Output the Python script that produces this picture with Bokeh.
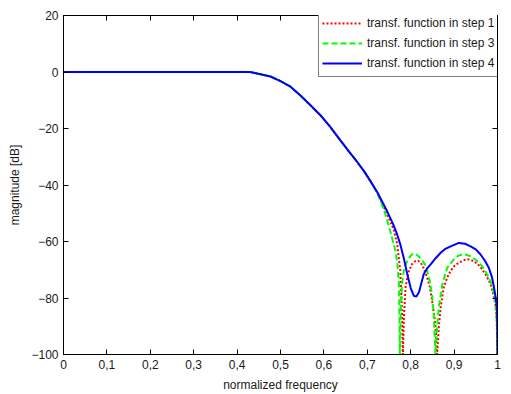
from bokeh.plotting import figure
from bokeh.models import LinearAxis, FixedTicker, Range1d, Legend, LegendItem, CustomJSTickFormatter
from bokeh.embed import file_html
from bokeh.resources import INLINE

# ---- data ----
freq_step1 = [0.0, 0.1, 0.2, 0.3, 0.4, 0.43, 0.454, 0.477, 0.5, 0.523, 0.546, 0.569,
              0.592, 0.615, 0.638, 0.657, 0.675, 0.692, 0.708, 0.723, 0.730, 0.746,
              0.761, 0.769, 0.776, 0.780, 0.782, 0.784, 0.788, 0.792, 0.796, 0.803,
              0.811, 0.817, 0.823, 0.830, 0.838, 0.844, 0.849, 0.855, 0.857, 0.861,
              0.865, 0.869, 0.876, 0.884, 0.892, 0.900, 0.911, 0.926, 0.935, 0.945,
              0.955, 0.965, 0.975, 0.984, 0.990, 0.995, 0.998, 1.0]
mag_step1 = [0, 0, 0, 0, 0, 0, -0.8, -1.6, -3.2, -5.2, -8.3, -11.8,
             -15.3, -19.5, -24.2, -28.0, -31.5, -35.0, -38.8, -42.6, -45.0, -50.5,
             -55.8, -61.1, -70.4, -85.0, -100, -88.0, -76.3, -73.0, -70.4, -68.0,
             -66.9, -66.8, -67.5, -69.5, -72.8, -76.0, -80.9, -87.0, -90.0, -100,
             -90.0, -83.3, -76.3, -72.8, -70.4, -68.7, -67.5, -66.4, -66.4, -66.9,
             -68.1, -69.9, -72.3, -75.1, -78.5, -82.1, -87.0, -100]

freq_step3 = [0.0, 0.1, 0.2, 0.3, 0.4, 0.43, 0.454, 0.477, 0.5, 0.523, 0.546, 0.569,
              0.592, 0.615, 0.638, 0.657, 0.675, 0.692, 0.708, 0.723, 0.730, 0.740,
              0.753, 0.760, 0.765, 0.769, 0.773, 0.775, 0.777, 0.780, 0.784, 0.790,
              0.796, 0.803, 0.808, 0.811, 0.818, 0.826, 0.832, 0.838, 0.844, 0.849,
              0.853, 0.857, 0.861, 0.865, 0.873, 0.884, 0.899, 0.910, 0.919, 0.928,
              0.938, 0.950, 0.961, 0.971, 0.980, 0.987, 0.992, 0.996, 0.999, 1.0]
mag_step3 = [0, 0, 0, 0, 0, 0, -0.8, -1.6, -3.2, -5.2, -8.3, -11.8,
             -15.3, -19.5, -24.2, -28.0, -31.5, -35.0, -38.9, -43.0, -45.5, -49.5,
             -56.4, -60.5, -63.4, -67.5, -75.0, -100, -85.0, -75.0, -70.4, -67.5,
             -65.8, -64.6, -64.3, -64.4, -65.2, -66.4, -68.0, -70.4, -74.0, -78.6,
             -85.6, -100, -90.0, -83.0, -75.1, -69.3, -66.4, -65.0, -64.6, -64.7,
             -65.2, -66.5, -68.1, -70.2, -72.8, -75.5, -78.6, -83.0, -90.0, -100]

freq_step4 = [0.0, 0.1, 0.2, 0.3, 0.4, 0.43, 0.454, 0.477, 0.5, 0.523, 0.546, 0.569,
              0.592, 0.615, 0.638, 0.657, 0.675, 0.692, 0.708, 0.723, 0.730, 0.746,
              0.760, 0.769, 0.776, 0.784, 0.792, 0.800, 0.807, 0.813, 0.819, 0.825,
              0.830, 0.838, 0.846, 0.857, 0.869, 0.880, 0.892, 0.911, 0.925, 0.938,
              0.950, 0.961, 0.971, 0.980, 0.987, 0.992, 0.996, 0.999, 1.0]
mag_step4 = [0, 0, 0, 0, 0, 0, -0.8, -1.6, -3.2, -5.2, -8.3, -11.8,
             -15.3, -19.5, -24.2, -28.0, -31.5, -35.0, -38.8, -42.6, -44.6, -49.4,
             -54.0, -57.6, -61.0, -65.8, -71.5, -76.5, -79.2, -79.5, -78.0, -74.5,
             -71.6, -69.5, -68.1, -66.0, -64.0, -62.6, -61.7, -60.5, -60.8, -61.7,
             -62.8, -64.6, -66.8, -69.3, -72.5, -76.3, -80.0, -84.4, -100]

x_ticks = [0.0, 0.1, 0.2, 0.3, 0.4, 0.5, 0.6, 0.7, 0.8, 0.9, 1.0]
x_tick_labels = ["0", "0,1", "0,2", "0,3", "0,4", "0,5", "0,6", "0,7", "0,8", "0,9", "1"]
y_ticks = [-100, -80, -60, -40, -20, 0, 20]
legend_labels = ["transf. function in step 1", "transf. function in step 3",
                 "transf. function in step 4"]

FONT = "Liberation Sans"
TXT = "#1a1a1a"

p = figure(width=511, height=394, output_backend="svg", toolbar_location=None,
           x_range=Range1d(0, 1), y_range=Range1d(-100, 20),
           min_border_left=63, min_border_right=14, min_border_top=15,
           min_border_bottom=36, x_axis_label="normalized frequency",
           y_axis_label="magnitude [dB]")
p.background_fill_color = "white"
p.border_fill_color = "white"
p.outline_line_color = "black"
p.outline_line_width = 1
p.xgrid.visible = False
p.ygrid.visible = False

r1 = p.line(freq_step1, mag_step1, line_color="#ff0000", line_width=2, line_dash="2 2")
r3 = p.line(freq_step3, mag_step3, line_color="#00ff00", line_width=2, line_dash="6 3")
r4 = p.line(freq_step4, mag_step4, line_color="#0000ff", line_width=2)

def style_axis(ax, ticks, show_labels=True):
    ax.ticker = FixedTicker(ticks=ticks)
    ax.minor_tick_line_color = None
    ax.major_tick_in = 5
    ax.major_tick_out = 0
    ax.axis_line_color = "black"
    ax.major_tick_line_color = "black"
    if show_labels:
        ax.major_label_text_font = FONT
        ax.major_label_text_font_size = "12px"
        ax.major_label_text_color = TXT
        ax.major_label_standoff = 5
        ax.axis_label_text_font = FONT
        ax.axis_label_text_font_size = "12px"
        ax.axis_label_text_font_style = "normal"
        ax.axis_label_text_color = TXT
        ax.axis_label_standoff = 6
    else:
        ax.formatter = CustomJSTickFormatter(code="return ''")
        ax.major_label_standoff = 0

style_axis(p.xaxis[0], x_ticks)
p.xaxis[0].major_label_overrides = {t: l for t, l in zip(x_ticks, x_tick_labels)}
style_axis(p.yaxis[0], y_ticks)

top_ax = LinearAxis()
style_axis(top_ax, x_ticks, show_labels=False)
p.add_layout(top_ax, "above")
right_ax = LinearAxis()
style_axis(right_ax, y_ticks, show_labels=False)
p.add_layout(right_ax, "right")

legend = Legend(items=[LegendItem(label=legend_labels[0], renderers=[r1]),
                       LegendItem(label=legend_labels[1], renderers=[r3]),
                       LegendItem(label=legend_labels[2], renderers=[r4])],
                location=(255, 277))
legend.label_text_font = FONT
legend.label_text_font_size = "12px"
legend.label_text_color = TXT
legend.glyph_width = 40
legend.glyph_height = 20
legend.label_height = 20
legend.label_standoff = 5
legend.spacing = 0
legend.padding = 3
legend.margin = 0
legend.border_line_color = "black"
legend.border_line_width = 1
legend.background_fill_color = "white"
legend.background_fill_alpha = 1
p.add_layout(legend, "center")

open("out.html", "w").write(file_html(p, INLINE))
